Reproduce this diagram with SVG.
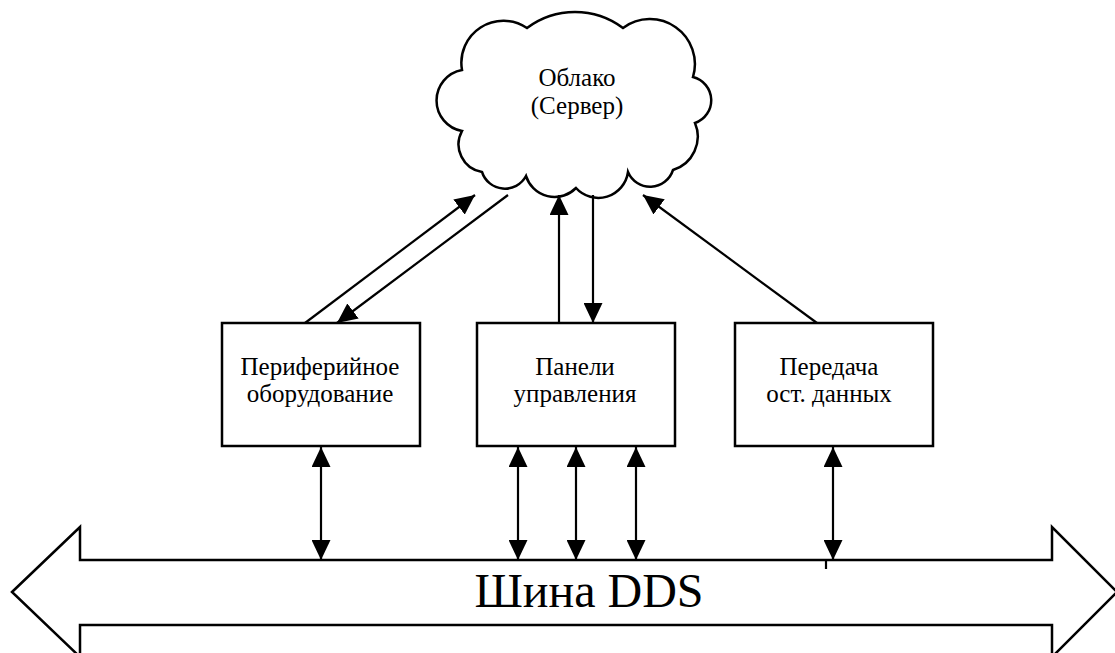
<svg xmlns="http://www.w3.org/2000/svg" width="1115" height="653" viewBox="0 0 1115 653">
<style>
.shape{fill:#fff;stroke:#000;stroke-width:2.5}
.lbl{font-family:"Liberation Serif","Times New Roman",serif;font-size:25px;fill:#000;text-anchor:middle}
.bus{font-family:"Liberation Serif","Times New Roman",serif;font-size:48px;fill:#000;text-anchor:middle}
.conn{stroke:#000;stroke-width:2.2;fill:none}
</style>
<defs>
<marker id="ah" markerUnits="userSpaceOnUse" markerWidth="20" markerHeight="19" refX="20" refY="9.5" orient="auto-start-reverse">
<path d="M0,0 L20,9.5 L0,19 Z" fill="#000"/>
</marker>
</defs>
<rect width="1115" height="653" fill="#fff"/>
<g id="bus">
<polygon class="shape" stroke-width="2" points="12,592 80,527 80,560 1052,560 1052,527 1117,592 1052,657 1052,625 80,625 80,657"/>
<text class="bus" x="589" y="607">Шина DDS</text>
</g>
<g id="cloud">
<path class="shape" d="M462,131 A31,31 0 0 1 462,70 A42,42 0 0 1 527,28 A80,80 0 0 1 623,28 A45,45 0 0 1 693,77 A24,24 0 0 1 695,123 A35,35 0 0 1 673,170 A24,24 0 0 1 628,172 A30,30 0 0 1 576,188 A30,30 0 0 1 526,176 A24,24 0 0 1 482,172 A28,28 0 0 1 462,131 Z"/>
<text class="lbl" x="577" y="86">Облако</text>
<text class="lbl" x="577" y="114">(Сервер)</text>
</g>
<g id="peripheral">
<rect class="shape" x="222" y="323" width="198" height="123"/>
<text class="lbl" x="320" y="375">Периферийное</text>
<text class="lbl" x="320" y="402">оборудование</text>
</g>
<g id="panels">
<rect class="shape" x="477" y="323" width="198" height="123"/>
<text class="lbl" x="575" y="375">Панели</text>
<text class="lbl" x="575" y="402">управления</text>
</g>
<g id="transfer">
<rect class="shape" x="735" y="323" width="198" height="123"/>
<text class="lbl" x="829" y="375">Передача</text>
<text class="lbl" x="829" y="402">ост. данных</text>
</g>
<g id="connectors">
<line class="conn" x1="305" y1="323" x2="475" y2="195" marker-end="url(#ah)"/>
<line class="conn" x1="508" y1="195" x2="337" y2="323" marker-end="url(#ah)"/>
<line class="conn" x1="559" y1="323" x2="559" y2="195" marker-end="url(#ah)"/>
<line class="conn" x1="593" y1="195" x2="593" y2="323" marker-end="url(#ah)"/>
<line class="conn" x1="817" y1="323" x2="643" y2="195" marker-end="url(#ah)"/>
<line class="conn" x1="321" y1="447" x2="321" y2="560" marker-start="url(#ah)" marker-end="url(#ah)"/>
<line class="conn" x1="518" y1="447" x2="518" y2="560" marker-start="url(#ah)" marker-end="url(#ah)"/>
<line class="conn" x1="576" y1="447" x2="576" y2="560" marker-start="url(#ah)" marker-end="url(#ah)"/>
<line class="conn" x1="636" y1="447" x2="636" y2="560" marker-start="url(#ah)" marker-end="url(#ah)"/>
<line class="conn" x1="833" y1="447" x2="833" y2="560" marker-start="url(#ah)" marker-end="url(#ah)"/>
<line class="conn" stroke-width="1.5" x1="826" y1="560" x2="826" y2="569"/>
</g>
</svg>
